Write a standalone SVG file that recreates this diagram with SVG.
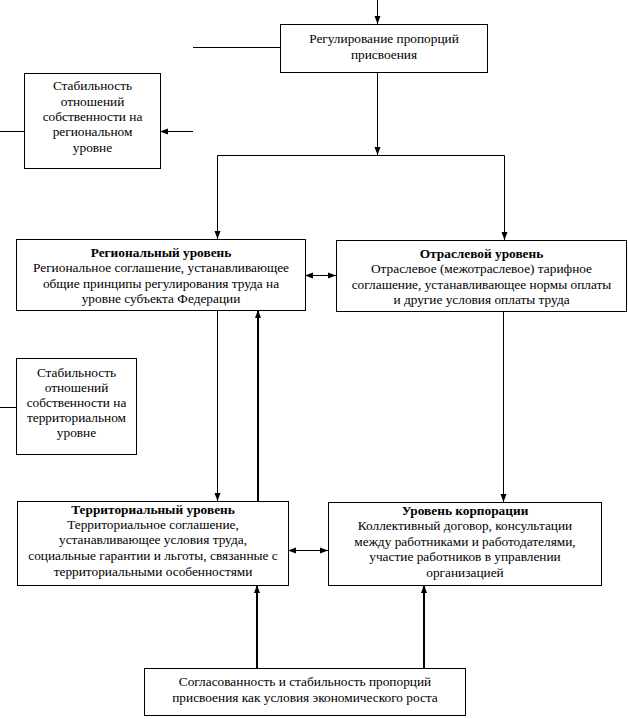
<svg xmlns="http://www.w3.org/2000/svg" width="628" height="719" viewBox="0 0 628 719">
<style>
rect{fill:#fff;stroke:#000;stroke-width:1}
text{font-family:'Liberation Serif','Times New Roman',serif;font-size:13.33px;text-anchor:middle;fill:#000}
.b{font-weight:bold}
.c line,.c path{stroke:#000;stroke-width:1;fill:none}
.c .t{stroke-width:2}
</style>
<defs>
<marker id="a" viewBox="0 0 8 8" refX="8" refY="4" markerWidth="8" markerHeight="8" markerUnits="userSpaceOnUse" orient="auto-start-reverse">
<path d="M0,1 L8,4 L0,7 Z" fill="#000"/>
</marker>
<marker id="at" viewBox="0 0 8 8" refX="8" refY="4" markerWidth="4" markerHeight="4" orient="auto">
<path d="M0,1 L8,4 L0,7 Z" fill="#000"/>
</marker>
</defs>
<g class="c" id="connectors">
<line x1="377.5" y1="0" x2="377.5" y2="24" marker-end="url(#a)"/>
<line x1="193" y1="47.5" x2="280" y2="47.5"/>
<line x1="377.5" y1="72" x2="377.5" y2="155" marker-end="url(#a)"/>
<path d="M217.5,239 V155.5 H504.5 V240"/>
<line x1="217.5" y1="200" x2="217.5" y2="239" marker-end="url(#a)"/>
<line x1="504.5" y1="200" x2="504.5" y2="240" marker-end="url(#a)"/>
<line x1="0" y1="131.5" x2="24" y2="131.5"/>
<line x1="193" y1="131.5" x2="160" y2="131.5" marker-end="url(#a)"/>
<line x1="305" y1="275.5" x2="336" y2="275.5" marker-start="url(#a)" marker-end="url(#a)"/>
<line x1="217.5" y1="310" x2="217.5" y2="501" marker-end="url(#a)"/>
<line class="t" x1="258" y1="501" x2="258" y2="310" marker-end="url(#at)"/>
<line x1="503.5" y1="311" x2="503.5" y2="502" marker-end="url(#a)"/>
<line x1="0" y1="407.5" x2="16" y2="407.5"/>
<line x1="288" y1="550.5" x2="328" y2="550.5" marker-start="url(#a)" marker-end="url(#a)"/>
<line class="t" x1="257" y1="668" x2="257" y2="585" marker-end="url(#at)"/>
<line class="t" x1="424" y1="668" x2="424" y2="585" marker-end="url(#at)"/>
</g>
<g id="top">
<rect x="280.5" y="24.5" width="207" height="48"/>
<text x="384" y="43">Регулирование пропорций</text>
<text x="384" y="59">присвоения</text>
</g>
<g id="stab-reg">
<rect x="24.5" y="73.5" width="136" height="95"/>
<text x="92.5" y="90">Стабильность</text>
<text x="92.5" y="106">отношений</text>
<text x="92.5" y="121">собственности на</text>
<text x="92.5" y="136">региональном</text>
<text x="92.5" y="152">уровне</text>
</g>
<g id="regional">
<rect x="16.5" y="239.5" width="289" height="71"/>
<text class="b" x="161" y="257">Региональный уровень</text>
<text x="161" y="272">Региональное соглашение, устанавливающее</text>
<text x="161" y="288">общие принципы регулирования труда на</text>
<text x="161" y="303">уровне субъекта Федерации</text>
</g>
<g id="industry">
<rect x="336.5" y="240.5" width="290" height="71"/>
<text class="b" x="481.5" y="258">Отраслевой уровень</text>
<text x="481.5" y="273">Отраслевое (межотраслевое) тарифное</text>
<text x="481.5" y="289">соглашение, устанавливающее нормы оплаты</text>
<text x="481.5" y="304">и другие условия оплаты труда</text>
</g>
<g id="stab-terr">
<rect x="16.5" y="358.5" width="120" height="96"/>
<text x="76.5" y="377">Стабильность</text>
<text x="76.5" y="392">отношений</text>
<text x="76.5" y="407">собственности на</text>
<text x="76.5" y="422">территориальном</text>
<text x="76.5" y="437">уровне</text>
</g>
<g id="territorial">
<rect x="17.5" y="501.5" width="271" height="84"/>
<text class="b" x="153" y="514">Территориальный уровень</text>
<text x="153" y="529">Территориальное соглашение,</text>
<text x="153" y="544">устанавливающее условия труда,</text>
<text x="153" y="560">социальные гарантии и льготы, связанные с</text>
<text x="153" y="576">территориальными особенностями</text>
</g>
<g id="corporation">
<rect x="328.5" y="502.5" width="273" height="83"/>
<text class="b" x="465" y="515">Уровень корпорации</text>
<text x="465" y="530">Коллективный договор, консультации</text>
<text x="465" y="546">между работниками и работодателями,</text>
<text x="465" y="561">участие работников в управлении</text>
<text x="465" y="577">организацией</text>
</g>
<g id="bottom">
<rect x="144.5" y="668.5" width="321" height="47"/>
<text x="305" y="686">Согласованность и стабильность пропорций</text>
<text x="305" y="702">присвоения как условия экономического роста</text>
</g>
</svg>
